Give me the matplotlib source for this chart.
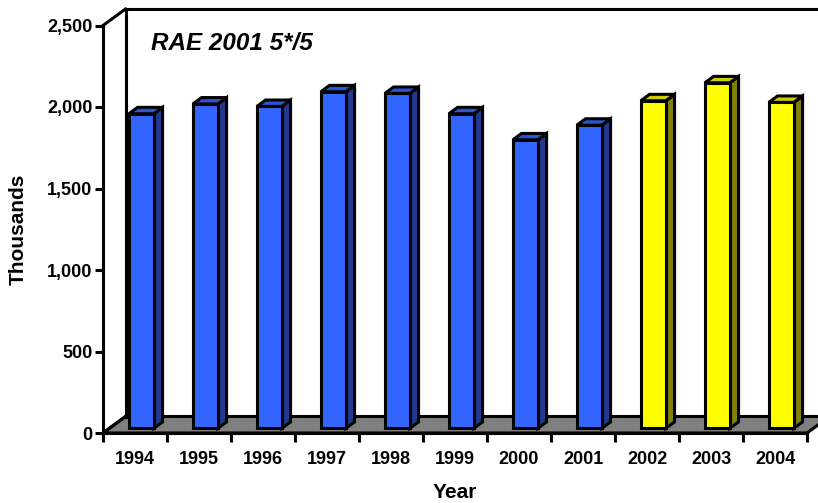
import matplotlib
matplotlib.use("Agg")
import matplotlib.pyplot as plt
from matplotlib.patches import Polygon
from matplotlib.ticker import FuncFormatter, FixedLocator

plt.rcParams['font.family'] = ['Liberation Sans', 'DejaVu Sans']

years = ['1994', '1995', '1996', '1997', '1998', '1999', '2000', '2001', '2002', '2003', '2004']
values = [1930, 1990, 1975, 2065, 2055, 1930, 1770, 1860, 2010, 2120, 2000]
is_forecast = [False] * 8 + [True] * 3
title = 'RAE 2001 5*/5'
ylabel = 'Thousands'
xlabel = 'Year'
yticks = [0, 500, 1000, 1500, 2000, 2500]

W, H = 818, 503
fig = plt.figure(figsize=(W / 100, H / 100), dpi=100)
left_px, right_px, zero_px, top_px = 103, 807, 433, 25.5
ax = fig.add_axes([left_px / W, 1 - zero_px / H, (right_px - left_px) / W, (zero_px - top_px) / H])
n = len(years)
ax.set_xlim(0, n)
ax.set_ylim(0, 2500)

# depth offsets in data units
DX = 22.5 * n / (right_px - left_px)
DY = 16.5 * 2500 / (zero_px - top_px)

lw = 2.2
# floor
floor = Polygon([(0, 0), (n, 0), (n + DX, DY), (DX, DY)], closed=True,
                facecolor='#808080', edgecolor='black', lw=lw, zorder=1, clip_on=False)
ax.add_patch(floor)
# walls
ax.plot([DX, DX], [DY, 2500 + DY], color='black', lw=lw, clip_on=False, zorder=1)
ax.plot([DX, n + 2 * DX], [2500 + DY, 2500 + DY], color='black', lw=lw, clip_on=False, zorder=1)
ax.plot([0, DX], [2500, 2500 + DY], color='black', lw=lw, clip_on=False, zorder=1)
ax.plot([0, DX], [0, DY], color='black', lw=lw, clip_on=False, zorder=2)

f0, f1 = 0.28, 0.67
bw = 25 / 64
colors_blue = ('#3366FF', '#1F3A8F', '#2B55D2')
colors_yel = ('#FFFF00', '#808000', '#CCCC00')
for i, (v, fc) in enumerate(zip(values, is_forecast)):
    front, side, top = colors_yel if fc else colors_blue
    x0 = i + 0.5 - bw / 2 + f0 * DX
    y0 = f0 * DY
    ddx = (f1 - f0) * DX
    ddy = (f1 - f0) * DY
    z = 5
    ax.add_patch(Polygon([(x0 + bw, y0), (x0 + bw + ddx, y0 + ddy), (x0 + bw + ddx, y0 + ddy + v), (x0 + bw, y0 + v)],
                         closed=True, facecolor=side, edgecolor='black', lw=lw, zorder=z, joinstyle='miter'))
    ax.add_patch(Polygon([(x0, y0 + v), (x0 + bw, y0 + v), (x0 + bw + ddx, y0 + v + ddy), (x0 + ddx, y0 + v + ddy)],
                         closed=True, facecolor=top, edgecolor='black', lw=lw, zorder=z, joinstyle='miter'))
    ax.add_patch(Polygon([(x0, y0), (x0 + bw, y0), (x0 + bw, y0 + v), (x0, y0 + v)],
                         closed=True, facecolor=front, edgecolor='black', lw=lw, zorder=z + 1, joinstyle='miter'))

for s in ['top', 'right']:
    ax.spines[s].set_visible(False)
for s in ['left', 'bottom']:
    ax.spines[s].set_linewidth(lw)
    ax.spines[s].set_zorder(10)
ax.patch.set_visible(False)

ax.yaxis.set_major_locator(FixedLocator(yticks))
ax.yaxis.set_major_formatter(FuncFormatter(lambda v, p: f'{int(v):,}'))
ax.tick_params(axis='y', direction='out', length=6, width=lw, pad=1.5, labelsize=13)
for t in ax.get_yticklabels():
    t.set_fontweight('bold')

ax.set_xticks(range(n + 1))
ax.set_xticklabels([])
ax.set_xticks([i + 0.5 for i in range(n)], minor=True)
ax.set_xticklabels(years, minor=True, fontweight='bold', fontsize=13)
ax.tick_params(axis='x', which='major', direction='out', length=6.5, width=lw)
ax.tick_params(axis='x', which='minor', length=0, pad=13)

fig.text(151 / W, 1 - 44 / H, title, fontsize=17.5, fontweight='bold', fontstyle='italic', ha='left', va='center')
fig.text(18 / W, 1 - 229 / H, ylabel, fontsize=15, fontweight='bold', rotation=90, ha='center', va='center')
fig.text(455 / W, 1 - 493 / H, xlabel, fontsize=15, fontweight='bold', ha='center', va='center')

fig.savefig('out.png', dpi=100)
